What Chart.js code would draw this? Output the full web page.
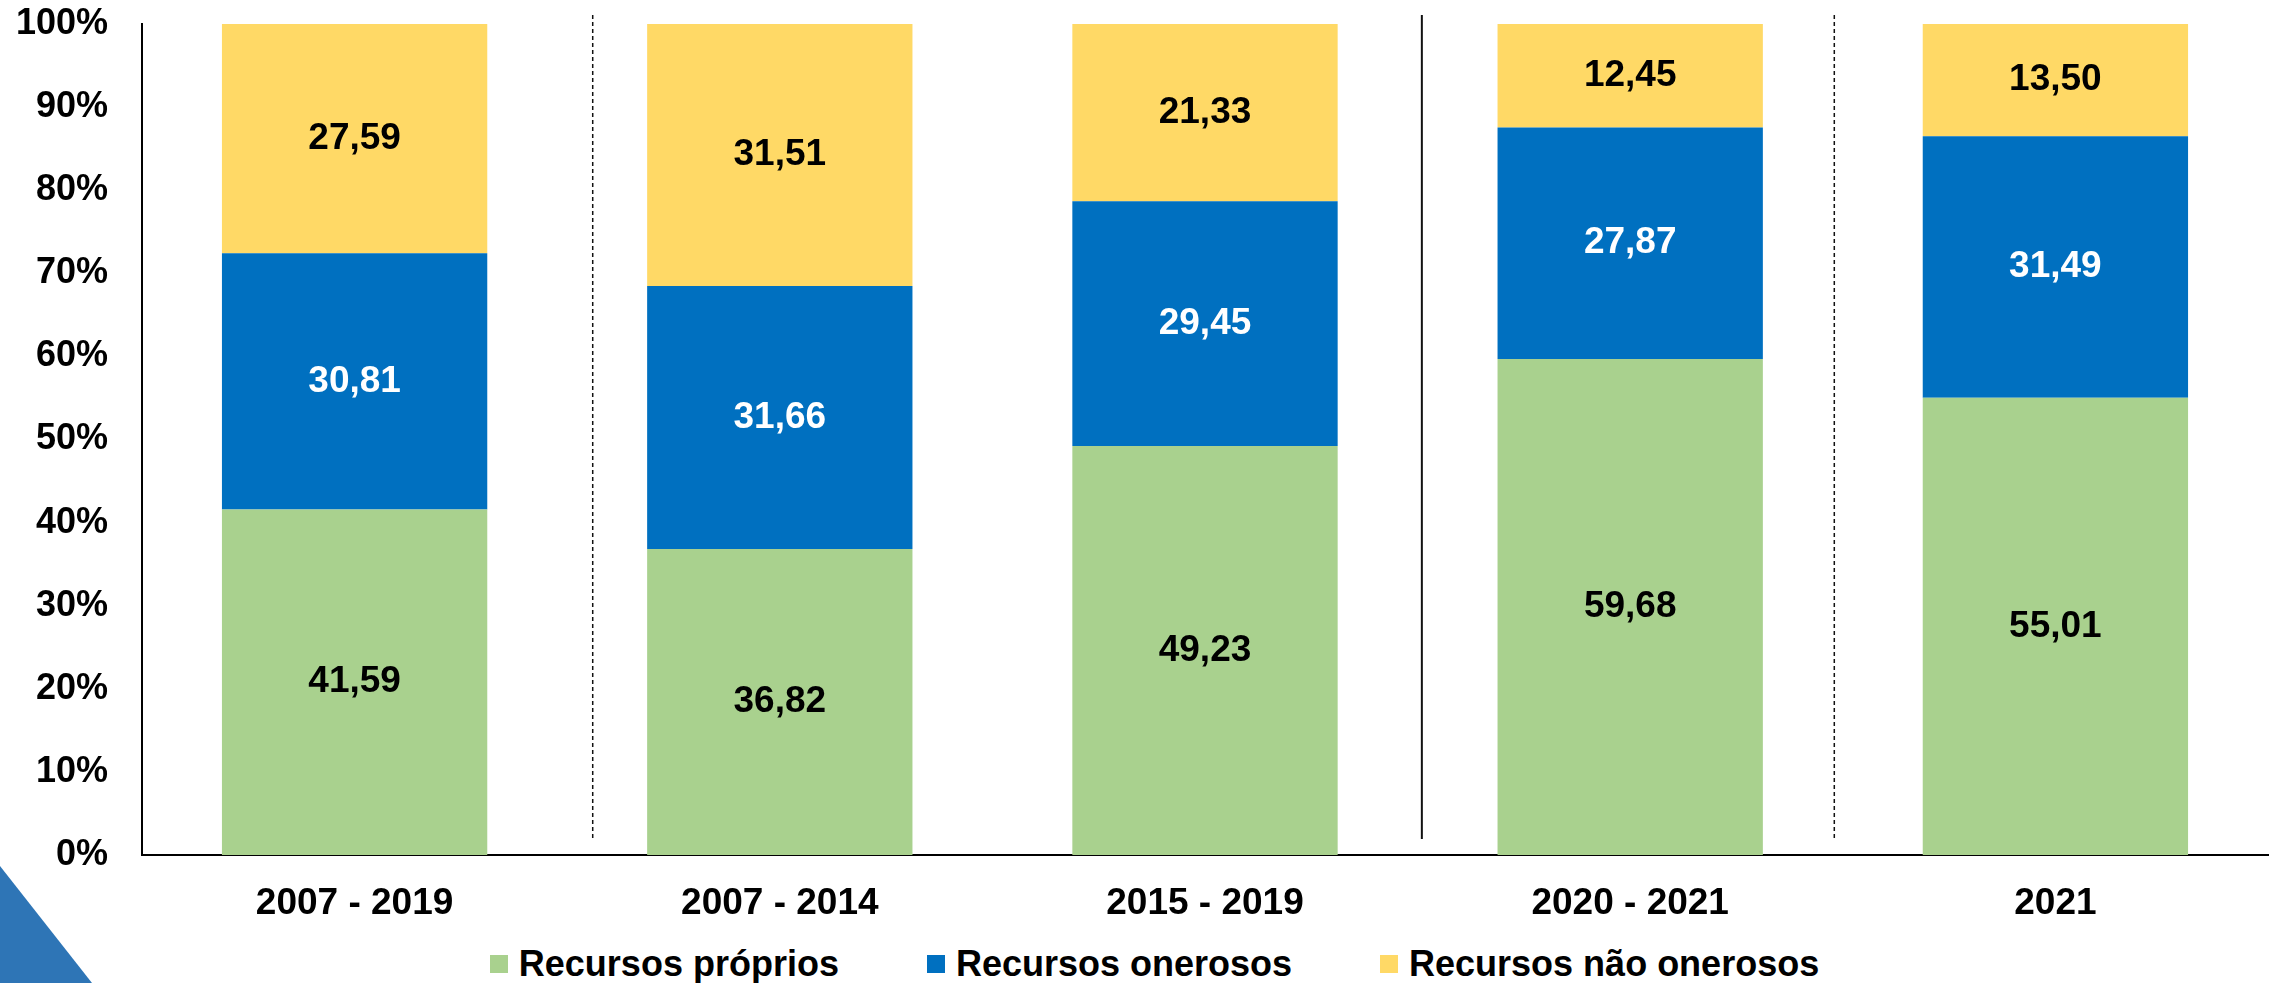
<!DOCTYPE html>
<html lang="pt">
<head>
    <meta charset="UTF-8">
    <title>Fontes de recursos</title>
    <script src="https://cdn.jsdelivr.net/npm/chart.js@4"></script>
    <style>
        body { margin: 0; background: #fff; overflow: hidden; font-family: "Liberation Sans", Arial, sans-serif; }
        #wrap { position: relative; width: 2278px; height: 983px; }
        #chartBox { width: 2278px; height: 935px; }
        #legend { display: flex; justify-content: center; align-items: center; height: 58px; padding-left: 31px; }
        .item { display: flex; align-items: center; font-weight: bold; font-size: 36px; color: #000; margin: 0 44px; }
        .item span.box { width: 18px; height: 18px; margin-right: 11px; }
        #corner { position: absolute; left: 0; top: 866px; width: 92px; height: 117px; background: #2e75b6;
                  clip-path: polygon(0 0, 100% 100%, 0 100%); }
    </style>
</head>
<body>
<div id="wrap">
    <div id="chartBox"><canvas id="chart"></canvas></div>
    <div id="legend"></div>
    <div id="corner"></div>
</div>
<script>
    const periods = ['2007 - 2019', '2007 - 2014', '2015 - 2019', '2020 - 2021', '2021'];
    const proprios = [41.59, 36.82, 49.23, 59.68, 55.01];
    const onerosos = [30.81, 31.66, 29.45, 27.87, 31.49];
    const naoOnerosos = [27.59, 31.51, 21.33, 12.45, 13.50];
    const yTicks = [0, 10, 20, 30, 40, 50, 60, 70, 80, 90, 100];

    // separators between groups (category index position, dashed or solid)
    const separators = [
        { at: 0.56, dashed: true },
        { at: 2.51, dashed: false },
        { at: 3.48, dashed: true }
    ];

    const font = '"Liberation Sans", Arial, sans-serif';

    const datasets = [
        { label: 'Recursos próprios', data: proprios, backgroundColor: '#a9d18e', textColor: '#000' },
        { label: 'Recursos onerosos', data: onerosos, backgroundColor: '#0070c0', textColor: '#fff' },
        { label: 'Recursos não onerosos', data: naoOnerosos, backgroundColor: '#ffd966', textColor: '#000' }
    ];

    const valueLabels = {
        id: 'valueLabels',
        afterDatasetsDraw(chart) {
            const ctx = chart.ctx;
            ctx.save();
            ctx.font = 'bold 37px ' + font;
            ctx.textAlign = 'center';
            ctx.textBaseline = 'middle';
            chart.data.datasets.forEach((ds, i) => {
                chart.getDatasetMeta(i).data.forEach((bar, j) => {
                    const p = bar.getCenterPoint();
                    ctx.fillStyle = ds.textColor;
                    ctx.fillText(ds.data[j].toFixed(2).replace('.', ','), p.x, p.y);
                });
            });
            ctx.restore();
        }
    };

    const groupLines = {
        id: 'groupLines',
        afterDraw(chart) {
            const ctx = chart.ctx;
            const area = chart.chartArea;
            ctx.save();
            ctx.strokeStyle = '#111';
            separators.forEach(s => {
                const x = chart.scales.x.getPixelForValue(s.at);
                ctx.lineWidth = s.dashed ? 1.5 : 2;
                ctx.setLineDash(s.dashed ? [4, 3] : []);
                ctx.beginPath();
                ctx.moveTo(x, area.top - 9);
                ctx.lineTo(x, area.bottom - 16);
                ctx.stroke();
            });
            ctx.restore();
        }
    };

    new Chart(document.getElementById('chart'), {
        type: 'bar',
        data: { labels: periods, datasets: datasets },
        plugins: [valueLabels, groupLines],
        options: {
            responsive: true,
            maintainAspectRatio: false,
            animation: false,
            layout: { padding: { left: 15, right: 10, top: 2, bottom: 0 } },
            datasets: { bar: { barPercentage: 0.624, categoryPercentage: 1 } },
            plugins: { legend: { display: false }, tooltip: { enabled: false } },
            scales: {
                x: {
                    stacked: true,
                    grid: { display: false, drawTicks: false },
                    border: { display: true, color: '#000', width: 2 },
                    ticks: { color: '#000', padding: 27, font: { family: font, size: 37, weight: 'bold' } },
                    afterFit: axis => { axis.height = 80; }
                },
                y: {
                    stacked: true,
                    min: 0,
                    max: 100,
                    afterBuildTicks: axis => { axis.ticks = yTicks.map(v => ({ value: v })); },
                    afterFit: axis => { axis.width = 127; axis.paddingTop = 24; },
                    grid: { display: false, drawTicks: false },
                    border: { display: true, color: '#000', width: 2 },
                    ticks: {
                        color: '#000', padding: 34,
                        font: { family: font, size: 36, weight: 'bold' },
                        callback: v => v + '%'
                    }
                }
            }
        }
    });

    // legend in html
    const legend = document.getElementById('legend');
    datasets.forEach(ds => {
        const item = document.createElement('div');
        item.className = 'item';
        item.innerHTML = '<span class="box" style="background:' + ds.backgroundColor + '"></span>' + ds.label;
        legend.appendChild(item);
    });
</script>
</body>
</html>
